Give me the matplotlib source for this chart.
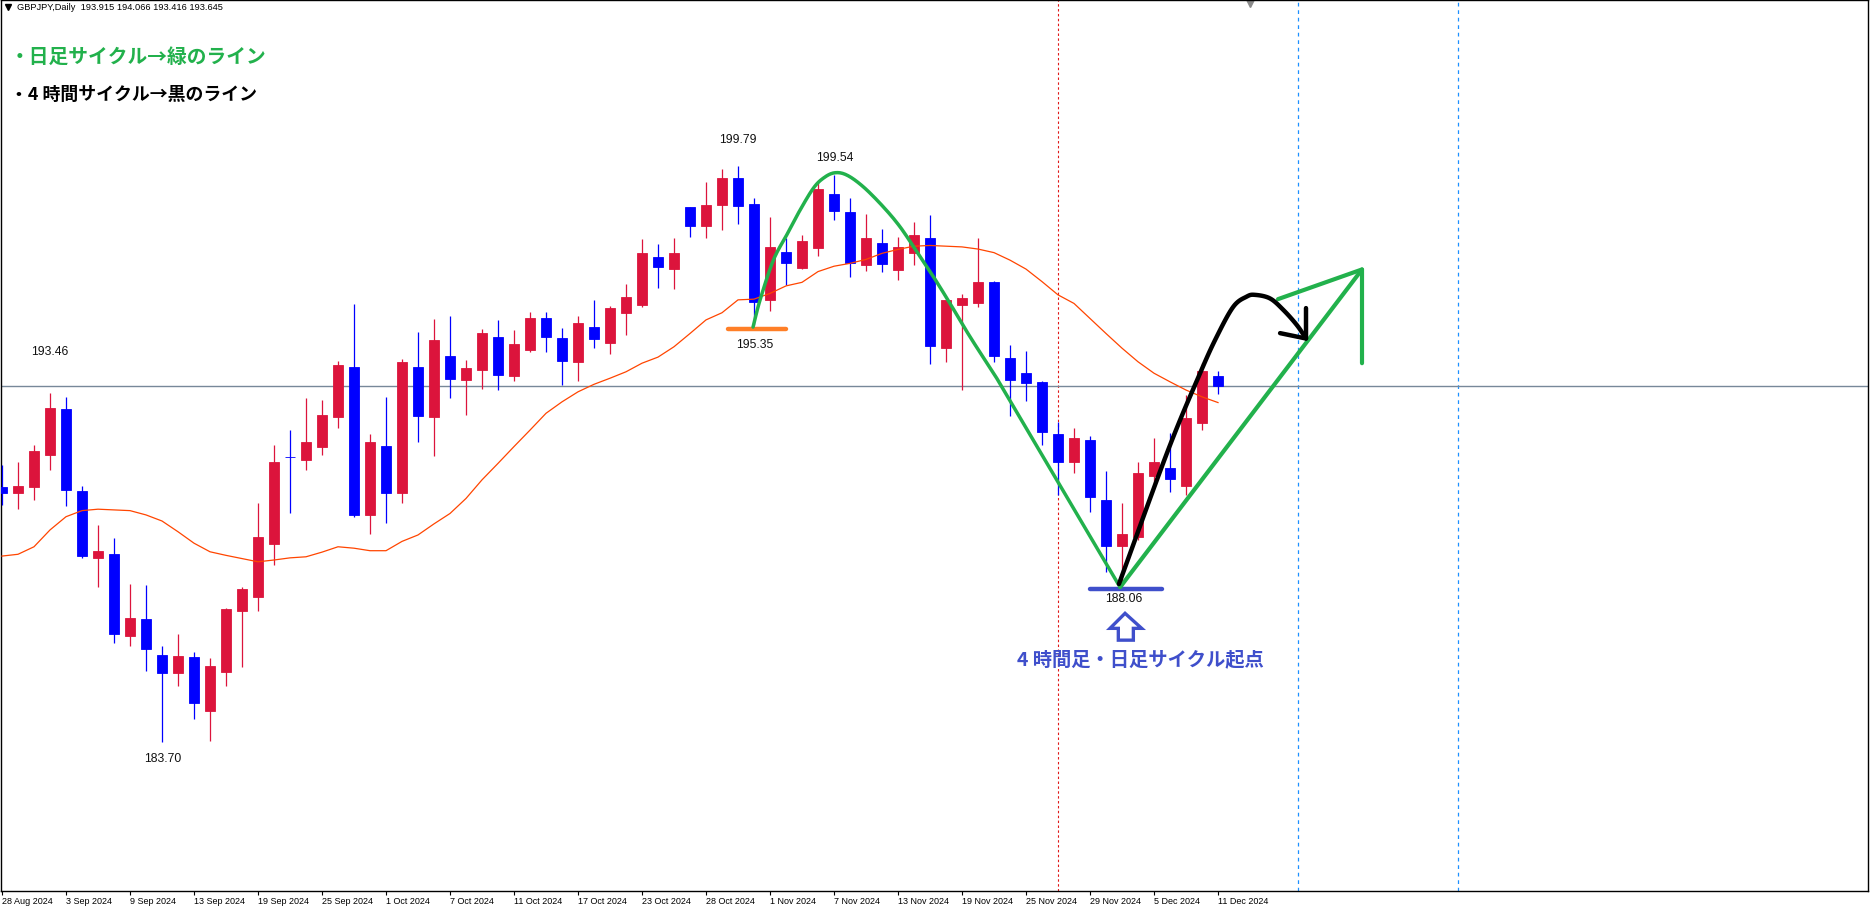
import matplotlib
matplotlib.use("Agg")
import matplotlib.pyplot as plt
from matplotlib.patches import Polygon
import numpy as np

# ---------------- data ----------------
tick_labels = ["28 Aug 2024", "3 Sep 2024", "9 Sep 2024", "13 Sep 2024", "19 Sep 2024",
               "25 Sep 2024", "1 Oct 2024", "7 Oct 2024", "11 Oct 2024", "17 Oct 2024",
               "23 Oct 2024", "28 Oct 2024", "1 Nov 2024", "7 Nov 2024", "13 Nov 2024",
               "19 Nov 2024", "25 Nov 2024", "29 Nov 2024", "5 Dec 2024", "11 Dec 2024"]
tick_every = 4

opens = [190.81, 190.66, 190.83, 191.71, 193.00, 190.71, 188.84, 188.95, 186.66, 187.13,
         186.12, 185.63, 186.07, 184.56, 185.66, 187.35, 187.75, 189.23, 191.67, 191.57,
         191.95, 192.78, 194.17, 190.05, 191.96, 190.66, 194.17, 192.78, 194.48, 193.82,
         194.10, 195.01, 193.93, 194.66, 195.54, 194.98, 194.32, 195.29, 194.85, 195.69,
         195.91, 197.26, 196.92, 198.64, 198.11, 198.70, 199.46, 198.73, 196.05, 197.39,
         196.95, 197.51, 199.01, 198.50, 197.03, 197.64, 196.89, 197.37, 197.78, 194.71,
         195.91, 195.97, 196.56, 194.42, 194.00, 193.76, 192.30, 191.53, 192.13, 190.46,
         189.18, 189.43, 191.13, 191.34, 190.85, 192.62, 193.915]
highs = [191.43, 191.52, 192.00, 193.46, 193.33, 190.85, 189.76, 189.39, 188.11, 188.08,
         186.38, 186.71, 186.21, 186.04, 187.45, 188.03, 190.38, 192.00, 192.41, 193.31,
         193.25, 194.34, 195.93, 192.30, 193.33, 194.40, 195.16, 195.51, 195.60, 194.37,
         195.24, 195.49, 195.21, 195.71, 195.71, 195.26, 195.60, 196.05, 195.88, 196.49,
         197.75, 197.61, 197.78, 198.64, 199.34, 199.71, 199.79, 198.90, 198.37, 197.78,
         197.86, 199.34, 199.54, 198.90, 198.45, 198.03, 197.81, 198.23, 198.42, 196.05,
         196.21, 197.79, 196.58, 194.80, 194.63, 193.79, 192.64, 192.47, 192.24, 191.27,
         190.36, 191.53, 192.18, 192.34, 193.39, 194.28, 194.066]
lows = [190.31, 190.21, 190.46, 191.30, 190.29, 188.85, 188.03, 186.47, 186.38, 185.68,
        183.70, 185.26, 184.34, 183.73, 185.26, 185.80, 187.35, 188.64, 190.10, 191.30,
        191.71, 192.48, 189.99, 189.51, 189.82, 190.38, 192.08, 191.68, 193.31, 192.84,
        193.57, 193.54, 193.79, 194.60, 194.60, 193.68, 193.79, 194.71, 194.55, 195.08,
        195.86, 196.39, 196.36, 197.82, 197.79, 198.00, 198.18, 195.35, 195.75, 196.47,
        196.92, 197.28, 198.29, 196.70, 196.87, 196.84, 196.61, 197.03, 194.27, 194.32,
        193.53, 195.86, 194.32, 192.81, 193.23, 192.00, 190.60, 191.22, 190.13, 188.45,
        188.06, 189.34, 190.90, 190.69, 190.60, 192.41, 193.416]
closes = [190.66, 190.85, 191.83, 193.03, 190.74, 188.89, 189.03, 186.70, 187.16, 186.30,
          185.63, 186.10, 184.78, 185.82, 187.41, 187.97, 189.42, 191.52, 191.65, 192.08,
          192.83, 194.23, 190.05, 192.08, 190.66, 194.31, 192.81, 194.93, 193.85, 194.14,
          195.12, 193.96, 194.82, 195.54, 195.02, 194.35, 195.40, 194.96, 195.82, 196.13,
          197.36, 196.98, 197.36, 198.11, 198.70, 199.46, 198.67, 196.00, 197.53, 197.09,
          197.69, 199.15, 198.54, 197.09, 197.78, 197.06, 197.53, 197.86, 194.77, 196.05,
          196.09, 196.56, 194.49, 193.82, 193.73, 192.36, 191.53, 192.19, 190.55, 189.18,
          189.52, 191.20, 191.52, 191.03, 192.74, 194.06, 193.645]
ma_values = [188.89, 188.94, 189.15, 189.62, 189.99, 190.16, 190.20, 190.18, 190.16, 190.04,
             189.87, 189.57, 189.25, 189.01, 188.91, 188.82, 188.73, 188.78, 188.84, 188.87,
             189.00, 189.15, 189.11, 189.04, 189.04, 189.30, 189.48, 189.79, 190.08, 190.50,
             191.02, 191.48, 191.95, 192.41, 192.88, 193.20, 193.48, 193.69, 193.86, 194.04,
             194.28, 194.45, 194.74, 195.11, 195.49, 195.69, 196.05, 196.07, 196.23, 196.44,
             196.54, 196.84, 196.99, 197.07, 197.18, 197.35, 197.46, 197.55, 197.57, 197.55,
             197.53, 197.47, 197.37, 197.16, 196.91, 196.56, 196.19, 195.95, 195.53, 195.11,
             194.70, 194.32, 194.00, 193.76, 193.53, 193.34, 193.18]
bid_price = 193.645
header = "GBPJPY,Daily  193.915 194.066 193.416 193.645"

# price labels: (text, bar position, price position)
price_labels = [("199.79", 46.02, 200.52), ("199.54", 52.02, 200.01),
                ("195.35", 47.02, 194.79), ("193.46", 3.0, 194.60),
                ("183.70", 10.02, 183.21), ("188.06", 70.08, 187.68)]

# hand-drawn annotations (bar index, price)
green_curve_x = [46.94, 47.38, 48.21, 49.04, 49.88, 50.71, 51.33, 52.02, 52.79, 53.83,
                 55.08, 56.13, 57.17, 58.21, 59.25, 60.5, 62.17, 69.88]
green_curve_y = [195.29, 196.05, 197.16, 197.86, 198.56, 199.17, 199.45, 199.60, 199.54, 199.21,
                 198.65, 198.09, 197.40, 196.70, 195.95, 195.02, 193.86, 188.02]
green_up_x = [69.88, 85.0]
green_up_y = [188.02, 196.90]
green_head_a_x = [79.75, 85.0, 85.0]
green_head_a_y = [196.07, 196.90, 194.28]
black_curve_x = [69.81, 72.88, 74.88, 75.92, 76.96, 77.79, 78.31, 79.25, 80.08, 80.92, 81.5]
black_curve_y = [188.11, 191.85, 194.00, 195.02, 195.86, 196.14, 196.19, 196.09, 195.77, 195.35, 194.97]
black_head_x = [79.88, 81.5, 81.5]
black_head_y = [195.12, 194.97, 195.82]
orange_seg_x = [45.36, 49.0]
orange_seg_y = 195.23
blue_seg_x = [68.0, 72.48]
blue_seg_y = 187.96
blue_arrow_x = [70.19, 71.23, 70.71, 70.71, 69.77, 69.77, 69.25]
blue_arrow_y = [187.29, 186.87, 186.87, 186.54, 186.54, 186.87, 186.87]
vline_red = 66
vlines_blue = [81, 91]
cycle_note = ("4 時間足・日足サイクル起点", 63.44, 185.98)


def smooth(xp, yp, steps=10):
    """Catmull-Rom curve through the hand-drawn control points."""
    p = np.column_stack([xp, yp]).astype(float)
    p = np.vstack([2 * p[0] - p[1], p, 2 * p[-1] - p[-2]])
    out = []
    for k in range(1, len(p) - 2):
        p0, p1, p2, p3 = p[k - 1], p[k], p[k + 1], p[k + 2]
        for t in np.linspace(0, 1, steps, endpoint=False):
            t2, t3 = t * t, t * t * t
            out.append(0.5 * ((2 * p1) + (-p0 + p2) * t + (2 * p0 - 5 * p1 + 4 * p2 - p3) * t2
                              + (-p0 + 3 * p1 - 3 * p2 + p3) * t3))
    out.append(p[-2])
    out = np.array(out)
    return out[:, 0], out[:, 1]


# ---------------- drawing ----------------
plt.rcParams['font.family'] = ['Liberation Sans', 'DejaVu Sans']
JP = ['Noto Sans CJK JP', 'DejaVu Sans']

W, H = 1870, 908
fig = plt.figure(figsize=(W / 100, H / 100), dpi=100)
ax = fig.add_axes([1 / W, (H - 891) / H, 1867 / W, 891 / H])

n = len(opens)
xs = list(range(n))
RED = '#DC143C'
BLUE = '#0000FF'

for i in xs:
    o, h, l, c = opens[i], highs[i], lows[i], closes[i]
    col = RED if c >= o else BLUE
    ax.plot([i, i], [l, h], color=col, lw=0.9, solid_capstyle='butt', zorder=3)
    lo, hi = min(o, c), max(o, c)
    ax.bar(i, max(hi - lo, 0.001), bottom=lo, width=0.66, color=col,
           edgecolor=col, linewidth=0.6, zorder=4)

ax.plot(xs, ma_values, color='#FF4500', lw=0.9, zorder=5)
ax.axhline(bid_price, color='#778899', lw=1.0, zorder=2)

ax.axvline(vline_red, color='#E01818', lw=0.8, ls=(0, (2.2, 2.2)), zorder=1)
for v in vlines_blue:
    ax.axvline(v, color='#1E90FF', lw=0.9, ls=(0, (3, 3)), zorder=1)

GREEN = '#22B14C'
gx, gy = smooth(green_curve_x[:-1], green_curve_y[:-1])
gx = np.append(gx, green_curve_x[-1])
gy = np.append(gy, green_curve_y[-1])
ax.plot(gx, gy, color=GREEN, lw=2.5, solid_joinstyle='round',
        solid_capstyle='round', zorder=7)
ax.plot(green_up_x, green_up_y, color=GREEN, lw=3.0, solid_capstyle='round', zorder=7)
ax.plot(green_head_a_x, green_head_a_y, color=GREEN, lw=3.0, solid_joinstyle='round',
        solid_capstyle='round', zorder=7)
bx_, by_ = smooth(black_curve_x, black_curve_y)
ax.plot(bx_, by_, color='black', lw=3.2, solid_joinstyle='round',
        solid_capstyle='round', zorder=8)
ax.plot(black_head_x, black_head_y, color='black', lw=3.2, solid_joinstyle='round',
        solid_capstyle='round', zorder=8)

ax.plot(orange_seg_x, [orange_seg_y] * 2, color='#FF7F27', lw=3.2,
        solid_capstyle='round', zorder=6)
ax.plot(blue_seg_x, [blue_seg_y] * 2, color='#3F4FCB', lw=3.2,
        solid_capstyle='round', zorder=6)
ax.add_patch(Polygon(list(zip(blue_arrow_x, blue_arrow_y)), closed=True,
                     facecolor='white', edgecolor='#3F4FCB', lw=2.4, zorder=6))

for txt, px, py in price_labels:
    ax.text(px, py, txt, fontsize=8.7, ha='center', va='center', color='#111111', zorder=9)

ax.text(cycle_note[1], cycle_note[2], cycle_note[0], family=JP, fontsize=13.9,
        fontweight='bold', color='#3F4FCB', ha='left', va='center', zorder=9)

ax.text(0.0048, 0.9356, "・日足サイクル→緑のライン", family=JP, fontsize=14.2,
        fontweight='bold', color=GREEN, ha='left', va='center', transform=ax.transAxes)
ax.text(0.0048, 0.894, "・4 時間サイクル→黒のライン", family=JP, fontsize=12.9,
        fontweight='bold', color='black', ha='left', va='center', transform=ax.transAxes)

ax.text(0.0086, 0.9921, header, fontsize=6.7, ha='left', va='center',
        color='black', transform=ax.transAxes)
ax.plot([0.0037], [0.9921], marker='v', ms=4, color='black', transform=ax.transAxes,
        clip_on=False)
ax.plot([0.669], [0.9975], marker='v', ms=7, color='#8A8A8A', transform=ax.transAxes,
        clip_on=False)

ax.set_xlim(-1 / 16, 1866 / 16)
ax.set_ylim(179.53, 204.43)
ax.set_xticks([k * tick_every for k in range(len(tick_labels))])
ax.set_xticklabels(tick_labels)
for lab in ax.get_xticklabels():
    lab.set_horizontalalignment('left')
ax.tick_params(axis='x', direction='out', length=3, width=0.8, pad=1.5, labelsize=6.5)
ax.set_yticks([])
for s in ax.spines.values():
    s.set_color('black')
    s.set_linewidth(1.0)

fig.savefig('out.png', dpi=100)
